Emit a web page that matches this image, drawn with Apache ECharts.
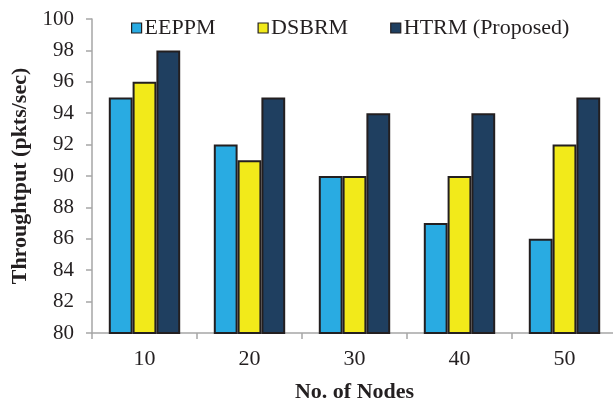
<!DOCTYPE html>
<html>
<head>
<meta charset="utf-8">
<script src="https://cdn.jsdelivr.net/npm/echarts@6/dist/echarts.min.js"></script>
<style>
  html, body { margin: 0; padding: 0; background: #fff; }
  #chart { width: 613px; height: 402px; }
</style>
</head>
<body>
<div id="chart"></div>
<script>
// Throughput per node count for the three routing methods
const nodes = ['10', '20', '30', '40', '50'];
const eeppm = [95, 92, 90, 87, 86];
const dsbrm = [96, 91, 90, 90, 92];
const htrm = [98, 95, 94, 94, 95];
const seriesNames = ['EEPPM', 'DSBRM', 'HTRM (Proposed)'];
const seriesColors = ['#29ABE2', '#F2EA1A', '#1F3F60'];

const serif = '"Liberation Serif", "Times New Roman", serif';
const axisGray = '#A6A6A6';
const ink = '#231F20';

const chart = echarts.init(document.getElementById('chart'), null, { renderer: 'canvas' });

const values = [eeppm, dsbrm, htrm];
chart.setOption({
  animation: false,
  backgroundColor: '#ffffff',
  textStyle: { fontFamily: serif },
  legend: {
    top: 12,
    left: 126,
    itemWidth: 10,
    itemHeight: 10,
    itemGap: 42,
    textStyle: { fontFamily: serif, fontSize: 22, color: ink, padding: [0, 0, 0, -2] },
    data: seriesNames.map((n, i) => ({
      name: n,
      icon: 'rect',
      itemStyle: { color: seriesColors[i], borderColor: ink, borderWidth: 1.2 }
    }))
  },
  grid: { left: 92, right: -4, top: 19, bottom: 69, containLabel: false, outerBoundsMode: 'none' },
  xAxis: {
    type: 'category',
    data: nodes,
    name: 'No. of Nodes',
    nameLocation: 'middle',
    nameGap: 48,
    nameTextStyle: { fontFamily: serif, fontSize: 22, fontWeight: 'bold', color: ink },
    axisLine: { lineStyle: { color: axisGray, width: 1.5 } },
    axisTick: { show: true, alignWithLabel: false, length: 6, lineStyle: { color: axisGray, width: 1.5 } },
    axisLabel: { fontFamily: serif, fontSize: 22, color: ink, margin: 15 }
  },
  yAxis: {
    type: 'value',
    min: 80,
    max: 100,
    interval: 2,
    name: 'Throughtput (pkts/sec)',
    nameLocation: 'middle',
    nameGap: 58,
    nameTextStyle: { fontFamily: serif, fontSize: 22, fontWeight: 'bold', color: ink },
    axisLine: { show: true, lineStyle: { color: axisGray, width: 1.5 } },
    axisTick: { show: true, length: 6, lineStyle: { color: axisGray, width: 1.5 } },
    splitLine: { show: false },
    axisLabel: { fontFamily: serif, fontSize: 21, color: ink, margin: 18 }
  },
  series: seriesNames.map((n, i) => ({
    name: n,
    type: 'bar',
    data: values[i],
    barGap: '0%',
    barCategoryGap: '32%',
    itemStyle: { color: seriesColors[i], borderColor: ink, borderWidth: 2 }
  }))
});
</script>
</body>
</html>
